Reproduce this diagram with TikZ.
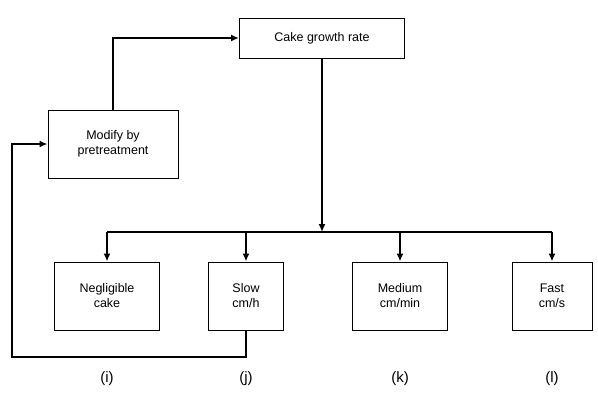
\documentclass[tikz,border=0pt]{standalone}
\usepackage{fontspec}
\setmainfont{Liberation Sans}
\usetikzlibrary{arrows.meta,positioning}

\begin{document}
\begin{tikzpicture}[x=1pt,y=-1pt,
    box/.style={draw,line width=1pt,align=center,font=\fontsize{12.5}{15}\selectfont,inner sep=2pt},
    link/.style={line width=1.8pt,-{Latex[length=8pt,width=7pt]}},
    plain/.style={line width=1.5pt},
    tag/.style={font=\fontsize{15}{18}\selectfont}
  ]
  \useasboundingbox (0,0) rectangle (598,392);
  % top level
  \node[box,minimum width=165pt,minimum height=40pt] (rate) at (322,38) {Cake growth rate};
  \node[box,minimum width=130pt,minimum height=68pt] (modify) at (113,144) {Modify by\\pretreatment};
  % categories
  \node[box,minimum width=105pt,minimum height=68pt] (negl) at (107,296) {Negligible\\cake};
  \node[box,minimum width=75pt,minimum height=68pt] (slow) at (246,296) {Slow\\cm/h};
  \node[box,minimum width=95pt,minimum height=68pt] (med) at (400,296) {Medium\\cm/min};
  \node[box,minimum width=80pt,minimum height=68pt] (fast) at (552,296) {Fast\\cm/s};
  % bus
  \coordinate (bus) at (322,232);
  \draw[plain] (negl.north |- bus) -- (fast.north |- bus);
  \draw[link] (rate.south) -- (bus);
  \foreach \k in {negl,slow,med,fast}
    \draw[link] (\k.north |- bus) -- (\k.north);
  % feedback loop
  \coordinate (loopA) at (246,357);
  \coordinate (loopB) at (12,357);
  \draw[link] (slow.south) -- (loopA) -- (loopB) |- (modify.west);
  \draw[link] (modify.north) |- (rate.west);
  % labels
  \node[tag] (li) at (negl.south |- 0,379) {(i)};
  \node[tag] (lj) at (slow.south |- 0,379) {(j)};
  \node[tag] (lk) at (med.south |- 0,379) {(k)};
  \node[tag] (ll) at (fast.south |- 0,379) {(l)};
\end{tikzpicture}
\end{document}
